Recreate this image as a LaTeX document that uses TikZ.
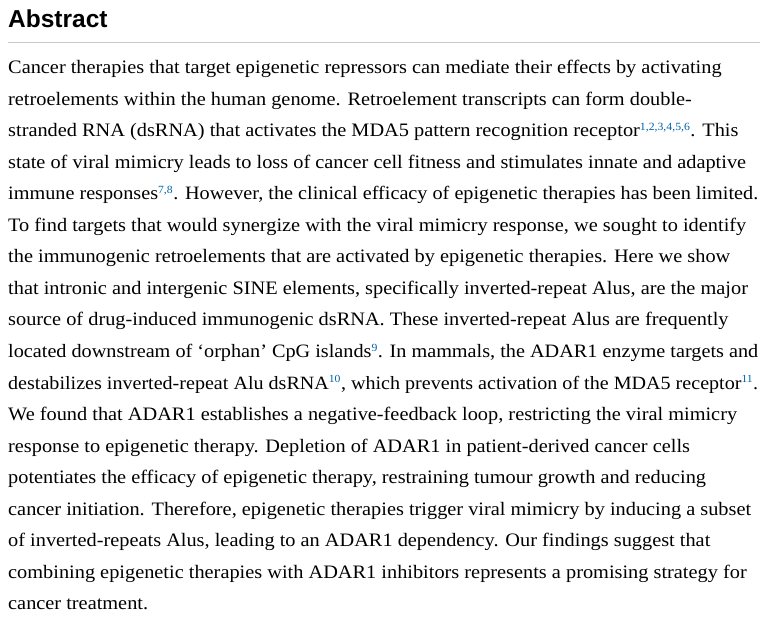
\documentclass[tikz,border=0pt]{standalone}
\usepackage{fontspec}
\usepackage{graphicx}
\setmainfont{Liberation Serif}[FakeStretch=1.07]
\setsansfont{Liberation Sans}
\definecolor{refblue}{RGB}{0,98,168}
\definecolor{rulegray}{RGB}{200,200,200}
\newcommand{\refsup}[1]{\textsuperscript{\textcolor{refblue}{\fontsize{11}{12}\selectfont #1}}}
\newcommand{\fitline}[1]{\resizebox{\ifdim\width>750pt 750pt\else\width\fi}{!}{#1}}
\begin{document}
\begin{tikzpicture}[x=1pt,y=-1pt,
  txtline/.style={anchor=base west,inner sep=0pt,font=\fontsize{19}{22}\selectfont}]
\useasboundingbox (0,0) rectangle (765,617);
% heading
\node [anchor=base west,inner sep=0pt,font=\sffamily\bfseries\fontsize{24.5}{28}\selectfont] (head) at (8,28) {Abstract};
\draw [rulegray,line width=1pt] (8,43) -- (760,43);
% text lines
\node [txtline] (l1) at (8,74) {\fitline{Cancer therapies that target epigenetic repressors can mediate their effects by activating}};
\node [txtline] (l2) at (8,105.5) {\fitline{retroelements within the human genome. Retroelement transcripts can form double-}};
\node [txtline] (l3) at (8,137) {\fitline{stranded RNA (dsRNA) that activates the MDA5 pattern recognition receptor\refsup{1,2,3,4,5,6}. This}};
\node [txtline] (l4) at (8,168.5) {\fitline{state of viral mimicry leads to loss of cancer cell fitness and stimulates innate and adaptive}};
\node [txtline] (l5) at (8,200) {\fitline{immune responses\refsup{7,8}. However, the clinical efficacy of epigenetic therapies has been limited.}};
\node [txtline] (l6) at (8,231.5) {\fitline{To find targets that would synergize with the viral mimicry response, we sought to identify}};
\node [txtline] (l7) at (8,263) {\fitline{the immunogenic retroelements that are activated by epigenetic therapies. Here we show}};
\node [txtline] (l8) at (8,294.5) {\fitline{that intronic and intergenic SINE elements, specifically inverted-repeat Alus, are the major}};
\node [txtline] (l9) at (8,326) {\fitline{source of drug-induced immunogenic dsRNA. These inverted-repeat Alus are frequently}};
\node [txtline] (l10) at (8,357.5) {\fitline{located downstream of ‘orphan’ CpG islands\refsup{9}. In mammals, the ADAR1 enzyme targets and}};
\node [txtline] (l11) at (8,389) {\fitline{destabilizes inverted-repeat Alu dsRNA\refsup{10}, which prevents activation of the MDA5 receptor\refsup{11}.}};
\node [txtline] (l12) at (8,420.5) {\fitline{We found that ADAR1 establishes a negative-feedback loop, restricting the viral mimicry}};
\node [txtline] (l13) at (8,452) {\fitline{response to epigenetic therapy. Depletion of ADAR1 in patient-derived cancer cells}};
\node [txtline] (l14) at (8,483.5) {\fitline{potentiates the efficacy of epigenetic therapy, restraining tumour growth and reducing}};
\node [txtline] (l15) at (8,515) {\fitline{cancer initiation. Therefore, epigenetic therapies trigger viral mimicry by inducing a subset}};
\node [txtline] (l16) at (8,546.5) {\fitline{of inverted-repeats Alus, leading to an ADAR1 dependency. Our findings suggest that}};
\node [txtline] (l17) at (8,578) {\fitline{combining epigenetic therapies with ADAR1 inhibitors represents a promising strategy for}};
\node [txtline] (l18) at (8,609.5) {\fitline{cancer treatment.}};
\end{tikzpicture}
\end{document}
